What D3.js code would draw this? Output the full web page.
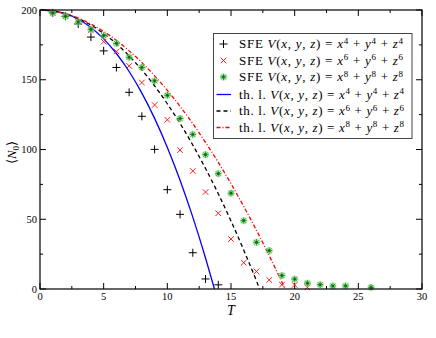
<!DOCTYPE html>
<html>
<head>
<meta charset="utf-8">
<script src="https://cdn.jsdelivr.net/npm/d3@7"></script>
<style>
  body { margin: 0; background: #fff; }
  svg { display: block; }
</style>
</head>
<body>
<div class="chart"></div>
<script>
/* SFE data */
const sfe4T = [1, 2, 3, 4, 5, 6, 7, 8, 9, 10, 11, 12, 13, 14];
const sfe4N = [198, 195.5, 190, 180.6, 170.7, 158.8, 141, 123.8, 100.1, 71.2, 53.5, 26, 7.2, 3];

const sfe6T = [1, 2, 3, 4, 5, 6, 7, 8, 9, 10, 11, 12, 13, 14, 15, 16, 17, 18, 19, 20, 21];
const sfe6N = [198, 195.8, 191.6, 185.4, 177.3, 170.3, 159.9, 148, 131.9, 121.3, 99.6, 84.6, 69.5, 54.3, 35.8, 18.9, 12.6, 6.5, 3.1, 2.9, 1.2];

const sfe8T = [1, 2, 3, 4, 5, 6, 7, 8, 9, 10, 11, 12, 13, 14, 15, 16, 17, 18, 19, 20, 21, 22, 23, 24, 26];
const sfe8N = [197.8, 195.5, 191.4, 186.1, 181.6, 176.1, 166.1, 158.9, 149.2, 138.9, 122.2, 110.8, 96.3, 82.7, 68.7, 49, 33.5, 27.5, 9.6, 7.1, 4.2, 3.1, 2.2, 2.2, 1.2];

/* theoretical lines */
const th4T = [0, 1, 2, 3, 4, 5, 6, 7, 8, 9, 10, 11, 12, 13, 13.7];
const th4N = [200, 199.4, 197.4, 193.4, 187.5, 179.3, 168.8, 155.9, 140.4, 122.3, 101.5, 78, 51.5, 22.2, 0];

const th6T = [0, 1, 2, 3, 4, 5, 6, 7, 8, 9, 10, 11, 12, 13, 14, 15, 16, 17, 17.25];
const th6N = [200, 199.3, 197.3, 193.9, 189.2, 183.2, 175.8, 167.1, 157, 145.6, 132.8, 118.7, 103.2, 86.4, 68.3, 48.8, 27.9, 5.8, 0];

const th8T = [0, 1, 2, 3, 4, 5, 6, 7, 8, 9, 10, 11, 12, 13, 14, 15, 16, 17, 18, 19, 19.25];
const th8N = [200, 199.3, 197.3, 194.2, 189.9, 184.6, 178.2, 170.7, 162.3, 152.8, 142.4, 130.9, 118.5, 105.1, 90.8, 75.5, 59.2, 42.1, 23.9, 4.9, 0];

const xTicks = [0, 5, 10, 15, 20, 25, 30];
const yTicks = [0, 50, 100, 150, 200];

/* svg setup */
const width = 436;
const height = 338;
const margin = {left: 40, right: 14, top: 10, bottom: 49};

const svg = d3.select(".chart").append("svg")
  .attr("width", width)
  .attr("height", height)
  .style("font-family", "Liberation Serif");

const x = d3.scaleLinear().domain([0, 30]).range([margin.left, width - margin.right]);
const y = d3.scaleLinear().domain([0, 200]).range([height - margin.bottom, margin.top]);

const zip = (ts, ns) => ts.map((t, i) => ({t: t, n: ns[i]}));

/* ticks on all four sides, pointing inward */
const minorX = d3.range(2.5, 30, 5);
const minorY = d3.range(25, 200, 50);
const tickG = svg.append("g").attr("stroke", "#000").attr("stroke-width", 1);
[[xTicks, 6], [minorX, 3]].forEach(([vals, len]) => {
  vals.forEach(v => {
    tickG.append("line").attr("x1", x(v)).attr("x2", x(v))
      .attr("y1", y(0)).attr("y2", y(0) - len);
    tickG.append("line").attr("x1", x(v)).attr("x2", x(v))
      .attr("y1", y(200)).attr("y2", y(200) + len);
  });
});
[[yTicks, 6], [minorY, 3]].forEach(([vals, len]) => {
  vals.forEach(v => {
    tickG.append("line").attr("y1", y(v)).attr("y2", y(v))
      .attr("x1", x(0)).attr("x2", x(0) + len);
    tickG.append("line").attr("y1", y(v)).attr("y2", y(v))
      .attr("x1", x(30)).attr("x2", x(30) - len);
  });
});

/* tick labels */
svg.append("g").selectAll("text").data(xTicks).join("text")
  .attr("x", d => x(d)).attr("y", y(0) + 11)
  .attr("text-anchor", "middle").attr("font-size", 10.5)
  .text(d => d);
svg.append("g").selectAll("text").data(yTicks).join("text")
  .attr("x", x(0) - 3).attr("y", d => y(d) + 3.5)
  .attr("text-anchor", "end").attr("font-size", 10.5)
  .text(d => d);

/* axis titles */
svg.append("text")
  .attr("x", x(15)).attr("y", 315)
  .attr("text-anchor", "middle").attr("font-size", 14)
  .attr("font-style", "italic")
  .text("T");

const yl = svg.append("text")
  .attr("transform", `translate(16,${y(100) + 3}) rotate(-90)`)
  .attr("text-anchor", "middle").attr("font-size", 13);
yl.append("tspan").text("\u27E8");
yl.append("tspan").attr("font-style", "italic").text("N");
yl.append("tspan").attr("font-size", 9).attr("dy", 3).text("0");
yl.append("tspan").attr("dy", -3).text("\u27E9");

/* theoretical lines */
const line = d3.line().x(d => x(d.t)).y(d => y(d.n)).curve(d3.curveMonotoneX);
const lines = [
  {data: zip(th4T, th4N), color: "#0000ff", dash: null},
  {data: zip(th6T, th6N), color: "#000000", dash: "4,3"},
  {data: zip(th8T, th8N), color: "#ff0000", dash: "4,2,1,2"}
];
svg.append("g").selectAll("path").data(lines).join("path")
  .attr("d", d => line(d.data))
  .attr("fill", "none")
  .attr("stroke", d => d.color)
  .attr("stroke-width", 1.3)
  .attr("stroke-dasharray", d => d.dash);

/* markers */
function plus(g, s) {
  g.append("path").attr("d", `M${-s},0H${s}M0,${-s}V${s}`)
    .attr("stroke", "#000").attr("stroke-width", 1).attr("fill", "none");
}
function cross(g, s) {
  g.append("path").attr("d", `M${-s},${-s}L${s},${s}M${-s},${s}L${s},${-s}`)
    .attr("stroke", "#ff2020").attr("stroke-width", 1).attr("fill", "none");
}
function star(g, s) {
  g.append("circle").attr("r", s + 0.5).attr("fill", "#8fd88f").attr("opacity", 0.55);
  const d = s * 0.72;
  g.append("path")
    .attr("d", `M${-s},0H${s}M0,${-s}V${s}M${-d},${-d}L${d},${d}M${-d},${d}L${d},${-d}`)
    .attr("stroke", "#2aa02a").attr("stroke-width", 1).attr("fill", "none");
  g.append("circle").attr("r", 1.3).attr("fill", "#0b6b0b");
}

const series = [
  {data: zip(sfe4T, sfe4N), draw: g => plus(g, 4)},
  {data: zip(sfe6T, sfe6N), draw: g => cross(g, 2.8)},
  {data: zip(sfe8T, sfe8N), draw: g => star(g, 3.2)}
];
series.forEach(s => {
  svg.append("g").selectAll("g").data(s.data).join("g")
    .attr("transform", d => `translate(${x(d.t)},${y(d.n)})`)
    .each(function() { s.draw(d3.select(this)); });
});

/* frame */
svg.append("rect")
  .attr("x", x(0)).attr("y", y(200))
  .attr("width", x(30) - x(0)).attr("height", y(0) - y(200))
  .attr("fill", "none").attr("stroke", "#000").attr("stroke-width", 1.2);

/* legend */
const legend = svg.append("g");
legend.append("rect")
  .attr("x", 213.5).attr("y", 33.5).attr("width", 198.5).attr("height", 105)
  .attr("fill", "#fff").attr("stroke", "#444").attr("stroke-width", 1);

const powers = ["4", "6", "8", "4", "6", "8"];
const prefixes = ["SFE ", "SFE ", "SFE ", "th. l. ", "th. l. ", "th. l. "];
const rowY = [44, 60.5, 77, 94.5, 111, 127.5];

function mathLabel(t, pre, p) {
  const parts = [
    [pre, false], ["V", true], ["(", false], ["x", true], [", ", false], ["y", true],
    [", ", false], ["z", true], [") = ", false], ["x", true], [p, "sup"], [" + ", false],
    ["y", true], [p, "sup"], [" + ", false], ["z", true], [p, "sup"]
  ];
  let up = false;
  parts.forEach(([s, k]) => {
    const ts = t.append("tspan").text(s);
    if (k === true) ts.attr("font-style", "italic");
    if (k === "sup") { ts.attr("font-size", 9).attr("dy", -4.5); up = true; }
    else if (up) { ts.attr("dy", 4.5); up = false; }
  });
}

rowY.forEach((ry, i) => {
  const t = legend.append("text")
    .attr("x", 239).attr("y", ry + 4)
    .attr("font-size", 13)
    .attr("textLength", i < 3 ? 164 : 165)
    .attr("lengthAdjust", "spacing");
  mathLabel(t, prefixes[i], powers[i]);
  if (i < 3) {
    const g = legend.append("g").attr("transform", `translate(223.5,${ry})`);
    series[i].draw(g);
  } else {
    legend.append("line")
      .attr("x1", 216.5).attr("x2", 231).attr("y1", ry).attr("y2", ry)
      .attr("stroke", lines[i - 3].color).attr("stroke-width", 1.3)
      .attr("stroke-dasharray", lines[i - 3].dash);
  }
});
</script>
</body>
</html>
